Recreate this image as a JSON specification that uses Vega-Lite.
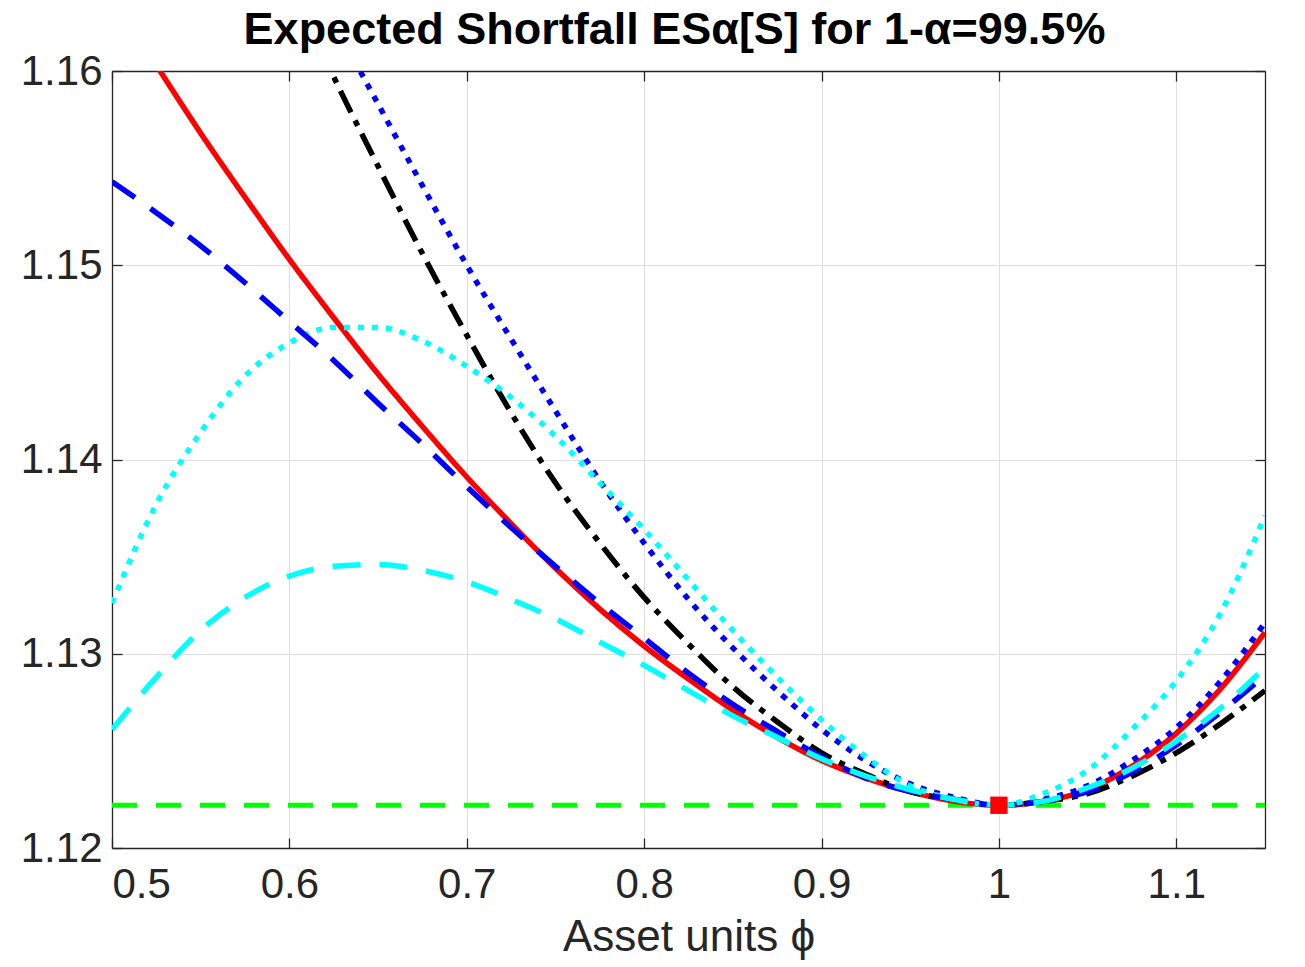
{
  "$schema": "https://vega.github.io/schema/vega-lite/v6.json",
  "width": 1153,
  "height": 777,
  "autosize": {"type": "none"},
  "padding": {"left": 112, "top": 71, "right": 40, "bottom": 119},
  "background": "white",
  "title": {
    "text": "Expected Shortfall ESα[S] for 1-α=99.5%",
    "font": "Liberation Sans",
    "fontSize": 45,
    "fontWeight": "bold",
    "color": "#000000",
    "anchor": "middle",
    "baseline": "alphabetic",
    "offset": -39,
    "dx": -14
  },
  "config": {
    "view": {"stroke": null},
    "axis": {
      "domainColor": "#262626",
      "domainWidth": 1.3,
      "tickColor": "#262626",
      "tickWidth": 1.3,
      "labelColor": "#262626",
      "labelFont": "Liberation Sans",
      "labelFontSize": 42,
      "titleFont": "Liberation Sans",
      "titleFontSize": 44,
      "titleFontWeight": "normal",
      "titleColor": "#262626",
      "gridColor": "#dedede",
      "gridWidth": 1
    }
  },
  "datasets": {
    "curves": [
      {"phi": 0.5, "es": 1.1639, "s": "red"}, {"phi": 0.525, "es": 1.1603, "s": "red"}, {"phi": 0.55, "es": 1.1568, "s": "red"}, {"phi": 0.575, "es": 1.1535, "s": "red"}, {"phi": 0.6, "es": 1.1503, "s": "red"}, {"phi": 0.625, "es": 1.1473, "s": "red"}, {"phi": 0.65, "es": 1.1444, "s": "red"}, {"phi": 0.675, "es": 1.1417, "s": "red"}, {"phi": 0.7, "es": 1.1391, "s": "red"}, {"phi": 0.725, "es": 1.1367, "s": "red"}, {"phi": 0.75, "es": 1.1344, "s": "red"}, {"phi": 0.775, "es": 1.1323, "s": "red"}, {"phi": 0.8, "es": 1.1304, "s": "red"}, {"phi": 0.825, "es": 1.1287, "s": "red"}, {"phi": 0.85, "es": 1.1271, "s": "red"}, {"phi": 0.875, "es": 1.1257, "s": "red"}, {"phi": 0.9, "es": 1.1245, "s": "red"}, {"phi": 0.925, "es": 1.1236, "s": "red"}, {"phi": 0.95, "es": 1.1229, "s": "red"}, {"phi": 0.975, "es": 1.1224, "s": "red"}, {"phi": 1.0, "es": 1.1222, "s": "red"}, {"phi": 1.025, "es": 1.1224, "s": "red"}, {"phi": 1.05, "es": 1.123, "s": "red"}, {"phi": 1.075, "es": 1.1242, "s": "red"}, {"phi": 1.1, "es": 1.1259, "s": "red"}, {"phi": 1.125, "es": 1.1282, "s": "red"}, {"phi": 1.15, "es": 1.1311, "s": "red"},

      {"phi": 0.5, "es": 1.185, "s": "blue dotted"}, {"phi": 0.525, "es": 1.1803, "s": "blue dotted"}, {"phi": 0.55, "es": 1.1757, "s": "blue dotted"}, {"phi": 0.575, "es": 1.1712, "s": "blue dotted"}, {"phi": 0.6, "es": 1.1668, "s": "blue dotted"}, {"phi": 0.625, "es": 1.1625, "s": "blue dotted"}, {"phi": 0.65, "es": 1.1583, "s": "blue dotted"}, {"phi": 0.675, "es": 1.1541, "s": "blue dotted"}, {"phi": 0.7, "es": 1.15, "s": "blue dotted"}, {"phi": 0.725, "es": 1.1462, "s": "blue dotted"}, {"phi": 0.75, "es": 1.1425, "s": "blue dotted"}, {"phi": 0.775, "es": 1.1389, "s": "blue dotted"}, {"phi": 0.8, "es": 1.1357, "s": "blue dotted"}, {"phi": 0.825, "es": 1.1328, "s": "blue dotted"}, {"phi": 0.85, "es": 1.1303, "s": "blue dotted"}, {"phi": 0.875, "es": 1.1281, "s": "blue dotted"}, {"phi": 0.9, "es": 1.1261, "s": "blue dotted"}, {"phi": 0.925, "es": 1.1245, "s": "blue dotted"}, {"phi": 0.95, "es": 1.1233, "s": "blue dotted"}, {"phi": 0.975, "es": 1.1226, "s": "blue dotted"}, {"phi": 1.0, "es": 1.1222, "s": "blue dotted"}, {"phi": 1.025, "es": 1.1225, "s": "blue dotted"}, {"phi": 1.05, "es": 1.1232, "s": "blue dotted"}, {"phi": 1.075, "es": 1.1245, "s": "blue dotted"}, {"phi": 1.1, "es": 1.1262, "s": "blue dotted"}, {"phi": 1.125, "es": 1.1286, "s": "blue dotted"}, {"phi": 1.15, "es": 1.1316, "s": "blue dotted"},

      {"phi": 0.5, "es": 1.1862, "s": "black dashdot"}, {"phi": 0.525, "es": 1.1806, "s": "black dashdot"}, {"phi": 0.55, "es": 1.1752, "s": "black dashdot"}, {"phi": 0.575, "es": 1.17, "s": "black dashdot"}, {"phi": 0.6, "es": 1.1648, "s": "black dashdot"}, {"phi": 0.625, "es": 1.1597, "s": "black dashdot"}, {"phi": 0.65, "es": 1.1551, "s": "black dashdot"}, {"phi": 0.675, "es": 1.1506, "s": "black dashdot"}, {"phi": 0.7, "es": 1.1464, "s": "black dashdot"}, {"phi": 0.725, "es": 1.1424, "s": "black dashdot"}, {"phi": 0.75, "es": 1.1388, "s": "black dashdot"}, {"phi": 0.775, "es": 1.1357, "s": "black dashdot"}, {"phi": 0.8, "es": 1.1329, "s": "black dashdot"}, {"phi": 0.825, "es": 1.1305, "s": "black dashdot"}, {"phi": 0.85, "es": 1.1283, "s": "black dashdot"}, {"phi": 0.875, "es": 1.1265, "s": "black dashdot"}, {"phi": 0.9, "es": 1.1249, "s": "black dashdot"}, {"phi": 0.925, "es": 1.1238, "s": "black dashdot"}, {"phi": 0.95, "es": 1.1229, "s": "black dashdot"}, {"phi": 0.975, "es": 1.1225, "s": "black dashdot"}, {"phi": 1.0, "es": 1.1222, "s": "black dashdot"}, {"phi": 1.025, "es": 1.1224, "s": "black dashdot"}, {"phi": 1.05, "es": 1.1228, "s": "black dashdot"}, {"phi": 1.075, "es": 1.1237, "s": "black dashdot"}, {"phi": 1.1, "es": 1.1249, "s": "black dashdot"}, {"phi": 1.125, "es": 1.1264, "s": "black dashdot"}, {"phi": 1.15, "es": 1.1281, "s": "black dashdot"},

      {"phi": 0.5, "es": 1.1326, "s": "cyan dotted"}, {"phi": 0.525, "es": 1.1377, "s": "cyan dotted"}, {"phi": 0.55, "es": 1.1414, "s": "cyan dotted"}, {"phi": 0.575, "es": 1.1443, "s": "cyan dotted"}, {"phi": 0.6, "es": 1.146, "s": "cyan dotted"}, {"phi": 0.625, "es": 1.1468, "s": "cyan dotted"}, {"phi": 0.65, "es": 1.1468, "s": "cyan dotted"}, {"phi": 0.675, "es": 1.1461, "s": "cyan dotted"}, {"phi": 0.7, "es": 1.1448, "s": "cyan dotted"}, {"phi": 0.725, "es": 1.1432, "s": "cyan dotted"}, {"phi": 0.75, "es": 1.1412, "s": "cyan dotted"}, {"phi": 0.775, "es": 1.1388, "s": "cyan dotted"}, {"phi": 0.8, "es": 1.1364, "s": "cyan dotted"}, {"phi": 0.825, "es": 1.1338, "s": "cyan dotted"}, {"phi": 0.85, "es": 1.1312, "s": "cyan dotted"}, {"phi": 0.875, "es": 1.1288, "s": "cyan dotted"}, {"phi": 0.9, "es": 1.1266, "s": "cyan dotted"}, {"phi": 0.925, "es": 1.1247, "s": "cyan dotted"}, {"phi": 0.95, "es": 1.1232, "s": "cyan dotted"}, {"phi": 0.975, "es": 1.1225, "s": "cyan dotted"}, {"phi": 1.0, "es": 1.1222, "s": "cyan dotted"}, {"phi": 1.025, "es": 1.1228, "s": "cyan dotted"}, {"phi": 1.05, "es": 1.124, "s": "cyan dotted"}, {"phi": 1.075, "es": 1.1261, "s": "cyan dotted"}, {"phi": 1.1, "es": 1.1286, "s": "cyan dotted"}, {"phi": 1.125, "es": 1.1321, "s": "cyan dotted"}, {"phi": 1.15, "es": 1.1371, "s": "cyan dotted"},

      {"phi": 0.5, "es": 1.1543, "s": "blue dashed"}, {"phi": 0.525, "es": 1.1527, "s": "blue dashed"}, {"phi": 0.55, "es": 1.151, "s": "blue dashed"}, {"phi": 0.575, "es": 1.1491, "s": "blue dashed"}, {"phi": 0.6, "es": 1.1471, "s": "blue dashed"}, {"phi": 0.625, "es": 1.1451, "s": "blue dashed"}, {"phi": 0.65, "es": 1.1429, "s": "blue dashed"}, {"phi": 0.675, "es": 1.1408, "s": "blue dashed"}, {"phi": 0.7, "es": 1.1386, "s": "blue dashed"}, {"phi": 0.725, "es": 1.1365, "s": "blue dashed"}, {"phi": 0.75, "es": 1.1345, "s": "blue dashed"}, {"phi": 0.775, "es": 1.1326, "s": "blue dashed"}, {"phi": 0.8, "es": 1.1308, "s": "blue dashed"}, {"phi": 0.825, "es": 1.129, "s": "blue dashed"}, {"phi": 0.85, "es": 1.1274, "s": "blue dashed"}, {"phi": 0.875, "es": 1.126, "s": "blue dashed"}, {"phi": 0.9, "es": 1.1247, "s": "blue dashed"}, {"phi": 0.925, "es": 1.1236, "s": "blue dashed"}, {"phi": 0.95, "es": 1.1229, "s": "blue dashed"}, {"phi": 0.975, "es": 1.1225, "s": "blue dashed"}, {"phi": 1.0, "es": 1.1222, "s": "blue dashed"}, {"phi": 1.025, "es": 1.1224, "s": "blue dashed"}, {"phi": 1.05, "es": 1.1229, "s": "blue dashed"}, {"phi": 1.075, "es": 1.1239, "s": "blue dashed"}, {"phi": 1.1, "es": 1.1253, "s": "blue dashed"}, {"phi": 1.125, "es": 1.127, "s": "blue dashed"}, {"phi": 1.15, "es": 1.1289, "s": "blue dashed"},

      {"phi": 0.5, "es": 1.1261, "s": "cyan dashed"}, {"phi": 0.525, "es": 1.1288, "s": "cyan dashed"}, {"phi": 0.55, "es": 1.1312, "s": "cyan dashed"}, {"phi": 0.575, "es": 1.1329, "s": "cyan dashed"}, {"phi": 0.6, "es": 1.134, "s": "cyan dashed"}, {"phi": 0.625, "es": 1.1345, "s": "cyan dashed"}, {"phi": 0.65, "es": 1.1346, "s": "cyan dashed"}, {"phi": 0.675, "es": 1.1343, "s": "cyan dashed"}, {"phi": 0.7, "es": 1.1337, "s": "cyan dashed"}, {"phi": 0.725, "es": 1.1328, "s": "cyan dashed"}, {"phi": 0.75, "es": 1.1318, "s": "cyan dashed"}, {"phi": 0.775, "es": 1.1306, "s": "cyan dashed"}, {"phi": 0.8, "es": 1.1294, "s": "cyan dashed"}, {"phi": 0.825, "es": 1.1281, "s": "cyan dashed"}, {"phi": 0.85, "es": 1.1268, "s": "cyan dashed"}, {"phi": 0.875, "es": 1.1257, "s": "cyan dashed"}, {"phi": 0.9, "es": 1.1246, "s": "cyan dashed"}, {"phi": 0.925, "es": 1.1237, "s": "cyan dashed"}, {"phi": 0.95, "es": 1.123, "s": "cyan dashed"}, {"phi": 0.975, "es": 1.1225, "s": "cyan dashed"}, {"phi": 1.0, "es": 1.1222, "s": "cyan dashed"}, {"phi": 1.025, "es": 1.1224, "s": "cyan dashed"}, {"phi": 1.05, "es": 1.1231, "s": "cyan dashed"}, {"phi": 1.075, "es": 1.1241, "s": "cyan dashed"}, {"phi": 1.1, "es": 1.1255, "s": "cyan dashed"}, {"phi": 1.125, "es": 1.1272, "s": "cyan dashed"}, {"phi": 1.15, "es": 1.1293, "s": "cyan dashed"}
    ],
    "green": [
      {"phi": 0.5, "es": 1.1222},
      {"phi": 1.15, "es": 1.1222}
    ],
    "marker": [
      {"phi": 1.0, "es": 1.1222}
    ]
  },
  "resolve": {"axis": {"x": "independent", "y": "independent"}},
  "layer": [
    {
      "data": {"name": "green"},
      "mark": {"type": "line", "color": "#00ff00", "strokeWidth": 5, "strokeDash": [25, 19], "clip": true},
      "encoding": {
        "x": {"field": "phi", "type": "quantitative", "scale": {"domain": [0.5, 1.15], "nice": false, "zero": false},
              "axis": {"orient": "top", "labels": false, "grid": false, "title": null, "tickSize": -10, "values": [0.5, 0.6, 0.7, 0.8, 0.9, 1.0, 1.1]}},
        "y": {"field": "es", "type": "quantitative", "scale": {"domain": [1.12, 1.16], "nice": false, "zero": false},
              "axis": {"orient": "right", "labels": false, "grid": false, "title": null, "tickSize": -10, "values": [1.12, 1.13, 1.14, 1.15, 1.16]}}
      }
    },
    {
      "data": {"name": "curves"},
      "transform": [{"filter": "datum.s === 'red'"}],
      "mark": {"type": "line", "color": "#ff0000", "strokeWidth": 5.5, "clip": true, "interpolate": "monotone"},
      "encoding": {
        "x": {"field": "phi", "type": "quantitative",
              "axis": {"orient": "bottom", "grid": true, "title": "Asset units ϕ", "tickSize": -10, "labelPadding": 26, "titlePadding": 10, "format": "~g", "values": [0.5, 0.6, 0.7, 0.8, 0.9, 1.0, 1.1]}},
        "y": {"field": "es", "type": "quantitative",
              "axis": {"orient": "left", "grid": true, "title": null, "tickSize": -10, "labelPadding": 20, "format": "~g", "values": [1.12, 1.13, 1.14, 1.15, 1.16]}}
      }
    },
    {
      "data": {"name": "curves"},
      "transform": [{"filter": "datum.s !== 'red'"}],
      "mark": {"type": "line", "strokeWidth": 5.5, "clip": true, "interpolate": "monotone"},
      "encoding": {
        "x": {"field": "phi", "type": "quantitative", "axis": null},
        "y": {"field": "es", "type": "quantitative", "axis": null},
        "color": {"field": "s", "type": "nominal", "legend": null,
                  "scale": {"domain": ["blue dotted", "black dashdot", "cyan dotted", "blue dashed", "cyan dashed"],
                            "range": ["#0000ff", "#000000", "#00ffff", "#0000ff", "#00ffff"]}},
        "strokeDash": {"field": "s", "type": "nominal", "legend": null,
                       "scale": {"domain": ["blue dotted", "black dashdot", "cyan dotted", "blue dashed", "cyan dashed"],
                                 "range": [[6, 8], [24, 9, 6, 9], [6, 8], [28, 19], [28, 19]]}}
      }
    },
    {
      "data": {"name": "marker"},
      "mark": {"type": "square", "color": "#ff0000", "filled": true, "opacity": 1, "size": 300},
      "encoding": {
        "x": {"field": "phi", "type": "quantitative", "axis": null},
        "y": {"field": "es", "type": "quantitative", "axis": null}
      }
    }
  ]
}
